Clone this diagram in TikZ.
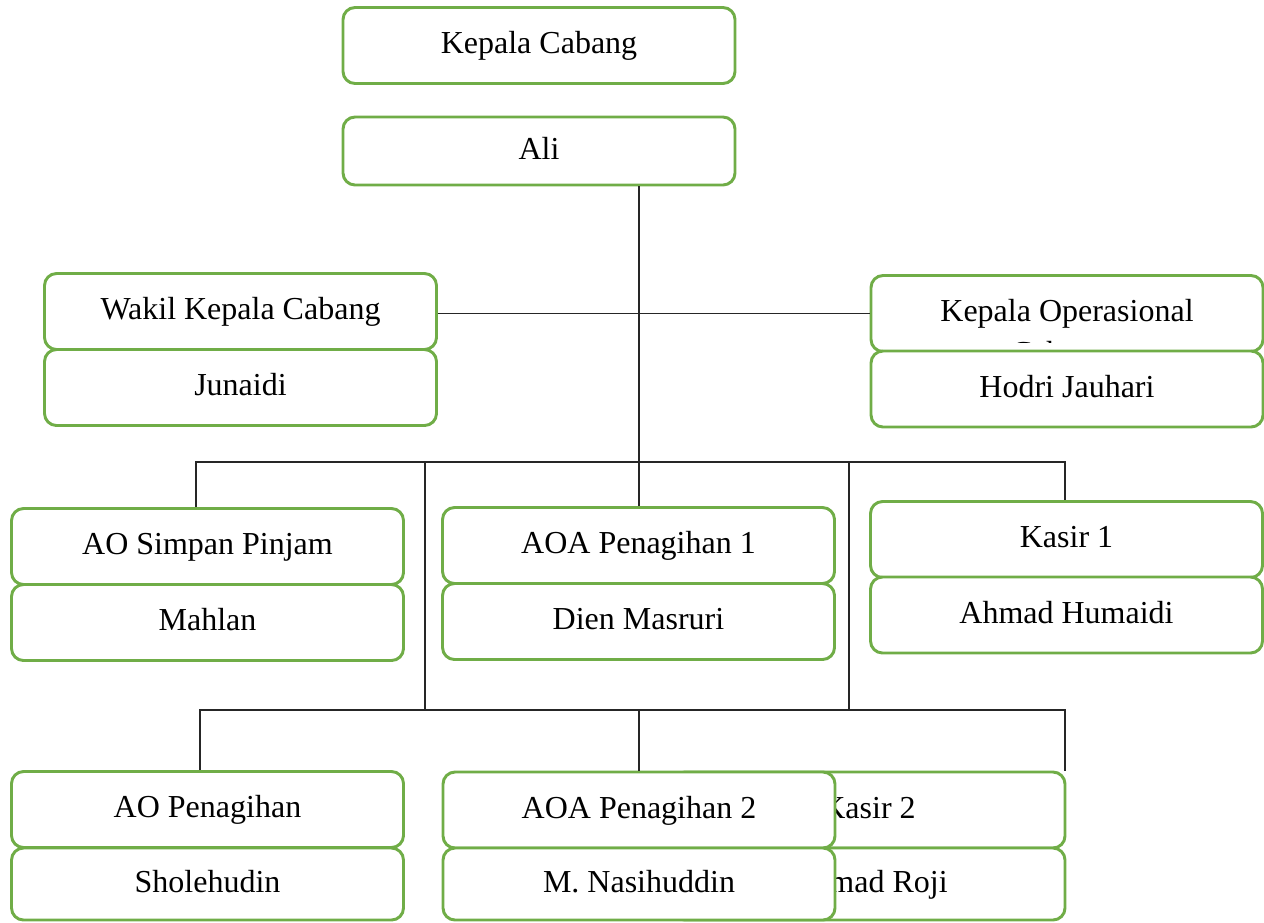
\documentclass[tikz,border=0pt]{standalone}
\usepackage{fontspec}
\setmainfont{Liberation Serif}
\usepackage{tikz}

\begin{document}
\begin{tikzpicture}[x=0.375pt,y=-0.375pt,
  box/.style={draw=boxgreen,line width=1.1pt,rounded corners=4.5pt,fill=white,
    minimum width=147pt,minimum height=28.5pt,inner sep=0pt,
    text height=8pt,text depth=2pt,font=\fontsize{12}{14}\selectfont},
  link/.style={draw=black!85,line width=0.4pt}]
% Define colors
\definecolor{boxgreen}{RGB}{112,173,71}

\useasboundingbox (0,0) rectangle (1264,922);

% Head of branch
\node[box] (kc) at (539,45.5) {Kepala Cabang};
\node[box,minimum height=25.5pt] (ali) at (539,151) {Ali};

% Deputy and operations head
\node[box] (wkc) at (240.5,311.5) {Wakil Kepala Cabang};
\node[box] (junaidi) at (240.5,387.5) {Junaidi};
\node[box] (kop) at (1067,313.5) {Kepala Operasional};
\begin{scope}
\clip (871,278) rectangle (1263,342);
\node[font=\fontsize{12}{14}\selectfont,anchor=base,inner sep=0pt] (kopcab) at (1060,363) {Cabang};
\end{scope}
\node[box] (hodri) at (1067,389) {Hodri Jauhari};

% First row of staff
\node[box] (aosp) at (207.5,546.5) {AO Simpan Pinjam};
\node[box] (mahlan) at (207.5,622.5) {Mahlan};
\node[box] (aoa1) at (638.5,545.5) {AOA Penagihan 1};
\node[box] (dien) at (638.5,621.5) {Dien Masruri};
\node[box] (kasir1) at (1066.5,539.5) {Kasir 1};
\node[box] (humaidi) at (1066.5,615) {Ahmad Humaidi};

% Second row of staff
\node[box] (aop) at (207.5,809.5) {AO Penagihan};
\node[box,minimum height=27pt] (sholeh) at (207.5,884) {Sholehudin};
\node[box] (kasir2) at (869,810) {Kasir 2};
\node[box,minimum height=27pt] (roji) at (869,884) {Ahmad Roji};
\node[box] (aoa2) at (639,810) {AOA Penagihan 2};
\node[box,minimum height=27pt] (nasih) at (639,884) {M. Nasihuddin};

% Bus lines
\coordinate (spine) at (639,462);
\coordinate (bus1l) at (196,462);
\coordinate (bus1r) at (1065,462);
\coordinate (side1) at (425,462);
\coordinate (side2) at (849,462);
\coordinate (bus2l) at (200,710);
\coordinate (bus2r) at (1065,710);

% Connectors
\draw[link] (ali.south -| spine) -- (aoa1.north -| spine);
\draw[link] (kop.west -| wkc.east) -- (kop.west);
\draw[link] (aosp.north -| bus1l) -- (bus1l) -- (bus1r) -- (kasir1.north -| bus1r);
\draw[link] (side1) -- (side1 |- bus2l);
\draw[link] (side2) -- (side2 |- bus2l);
\draw[link] (aop.north -| bus2l) -- (bus2l) -- (bus2r) -- (bus2r |- kasir2.north);
\draw[link] (spine |- bus2l) -- (aoa2.north -| spine);

\end{tikzpicture}
\end{document}
